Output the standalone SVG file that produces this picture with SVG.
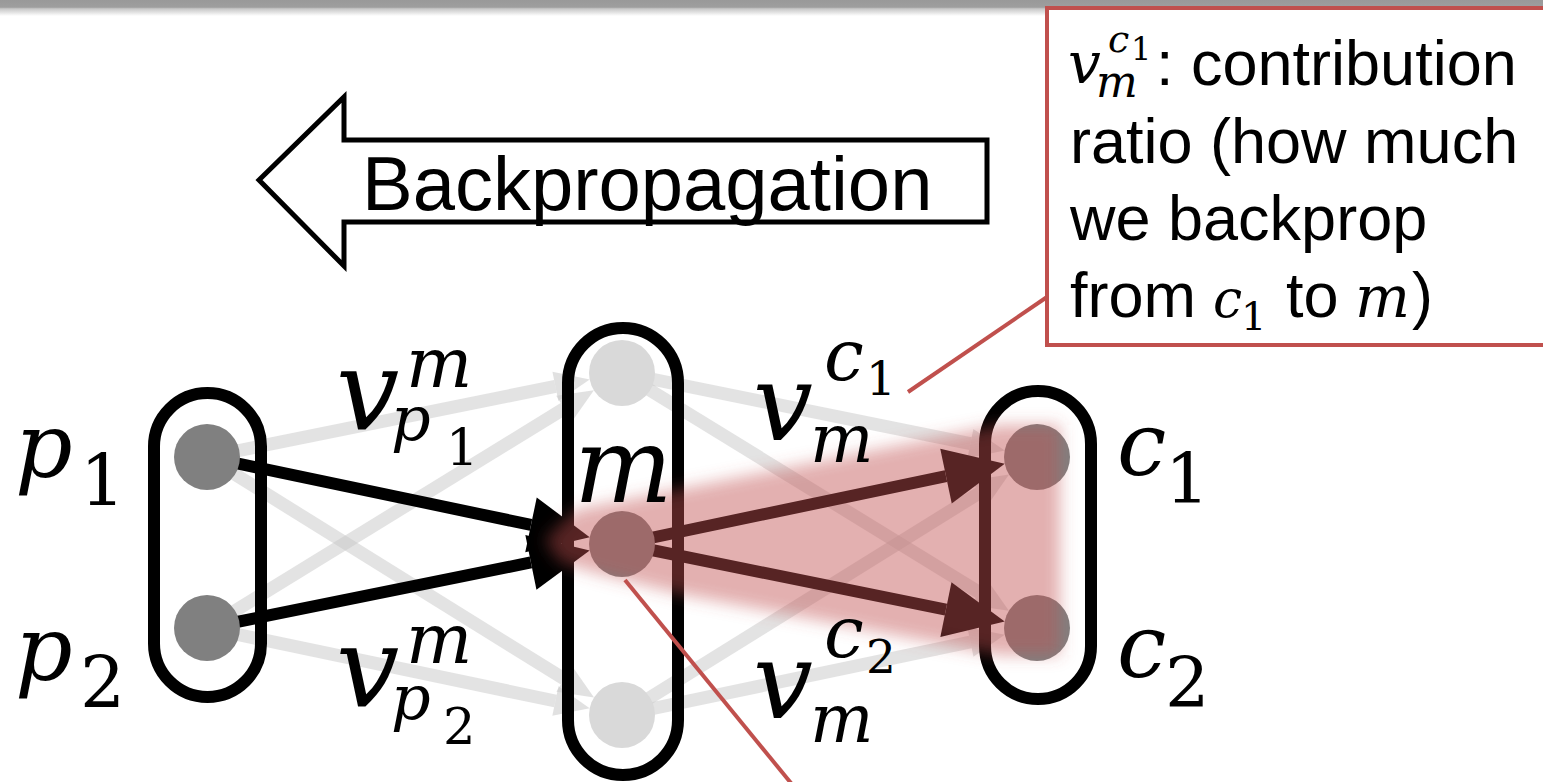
<svg xmlns="http://www.w3.org/2000/svg" width="1543" height="782" viewBox="0 0 1543 782">
<defs>
<linearGradient id="topband" x1="0" y1="0" x2="0" y2="1">
<stop offset="0" stop-color="#999"/>
<stop offset="0.45" stop-color="#9e9e9e"/>
<stop offset="0.55" stop-color="#c8c8c8"/>
<stop offset="0.8" stop-color="#e6e6e6"/>
<stop offset="1" stop-color="#fff"/>
</linearGradient>
<filter id="blur" x="-20%" y="-30%" width="140%" height="160%">
<feGaussianBlur stdDeviation="8"/>
</filter>
<marker id="ahGrey" markerUnits="userSpaceOnUse" markerWidth="40" markerHeight="34" refX="0" refY="15" orient="auto" overflow="visible">
<path d="M0,0 L35,15 L0,30 z" fill="#c8c8c8" fill-opacity="0.55"/>
</marker>
<marker id="ahBlack" markerUnits="userSpaceOnUse" markerWidth="62" markerHeight="58" refX="0" refY="28" orient="auto" overflow="visible">
<path d="M0,0 L60,28 L0,56 z" fill="#000"/>
</marker>
<style>
.grey{stroke:#c8c8c8;stroke-opacity:0.5;stroke-width:13;fill:none}
.black{stroke:#000;stroke-width:12;fill:none}
.pill{fill:none;stroke:#000;stroke-width:12}
.node{fill:#808080}
.lnode{fill:#d9d9d9}
.mi{font-family:"DejaVu Serif",serif;font-style:italic;fill:#000}
.mn{font-family:"DejaVu Serif",serif;font-style:normal;fill:#000}
.sans{font-family:"Liberation Sans",Arial,sans-serif;fill:#000}
.callout{stroke:#c0504d;stroke-width:4;fill:none}
</style>
</defs>
<rect x="0" y="0" width="1543" height="782" fill="#fff"/>
<rect x="0" y="0" width="1543" height="16" fill="url(#topband)"/>

<g id="backprop-arrow">
<polygon points="259,180 344,97 344,140 987,140 987,222 344,222 344,266" fill="#fff" stroke="#000" stroke-width="5" stroke-linejoin="miter"/>
<text class="sans" x="362" y="210" font-size="76">Backpropagation</text>
</g>

<g id="connectors">
<line class="grey" x1="207" y1="457" x2="555.4" y2="386.4" marker-end="url(#ahGrey)"/>
<line class="grey" x1="207" y1="457" x2="564.3" y2="679.1" marker-end="url(#ahGrey)"/>
<line class="grey" x1="207" y1="628" x2="564.1" y2="408.6" marker-end="url(#ahGrey)"/>
<line class="grey" x1="207" y1="628" x2="555.4" y2="701.0" marker-end="url(#ahGrey)"/>
<line class="grey" x1="622" y1="373" x2="970.4" y2="443.6" marker-end="url(#ahGrey)"/>
<line class="grey" x1="622" y1="373" x2="979.1" y2="592.4" marker-end="url(#ahGrey)"/>
<line class="grey" x1="622" y1="715" x2="979.3" y2="492.9" marker-end="url(#ahGrey)"/>
<line class="grey" x1="622" y1="715" x2="970.4" y2="642.0" marker-end="url(#ahGrey)"/>
<line class="black" x1="207" y1="457" x2="531.0" y2="524.9" marker-end="url(#ahBlack)"/>
<line class="black" x1="207" y1="628" x2="530.9" y2="562.4" marker-end="url(#ahBlack)"/>
<line class="black" x1="622" y1="544" x2="946.0" y2="476.1" marker-end="url(#ahBlack)"/>
<line class="black" x1="622" y1="544" x2="945.9" y2="609.6" marker-end="url(#ahBlack)"/>
</g>

<g id="group-p">
<rect class="pill" x="154" y="393" width="107" height="304" rx="53.5"/>
</g>
<g id="group-mid">
<rect class="pill" x="568" y="328" width="110" height="447" rx="55"/>
</g>
<g id="group-c">
<rect class="pill" x="985" y="391" width="106" height="308" rx="53"/>
</g>

<g id="node-p1"><circle class="node" cx="207" cy="457" r="33"/></g>
<g id="node-p2"><circle class="node" cx="207" cy="628" r="33"/></g>
<g id="node-top"><circle class="lnode" cx="622" cy="373" r="33"/></g>
<g id="node-m"><circle class="node" cx="622" cy="544" r="33"/></g>
<g id="node-bottom"><circle class="lnode" cx="622" cy="715" r="33"/></g>
<g id="node-c1"><circle class="node" cx="1037" cy="457" r="33"/></g>
<g id="node-c2"><circle class="node" cx="1037" cy="628" r="33"/></g>

<g id="glow">
<polygon points="545,540 575,510 1000,425 1060,425 1060,655 1000,655 680,594 600,574 560,562" fill="#c0504d" fill-opacity="0.45" filter="url(#blur)"/>
</g>

<g id="callouts">
<line class="callout" x1="908" y1="392" x2="1047" y2="297"/>
<line class="callout" x1="625" y1="580" x2="795" y2="788"/>
</g>

<g id="note-box">
<rect x="1047" y="8" width="520" height="337" fill="#fff" stroke="#c0504d" stroke-width="4"/>
<text class="mi" x="1068" y="83" font-size="58">v</text>
<text class="mi" x="1096" y="97" font-size="44">m</text>
<text class="mi" x="1108" y="52" font-size="38">c</text>
<text class="mn" x="1131" y="60" font-size="32">1</text>
<text class="sans" x="1156" y="85" font-size="63">: contribution</text>
<text class="sans" x="1070" y="163" font-size="63">ratio (how much</text>
<text class="sans" x="1070" y="240" font-size="63">we backprop</text>
<text class="sans" x="1070" y="317" font-size="63">from</text>
<text class="mi" x="1213" y="317" font-size="52">c</text>
<text class="mn" x="1241" y="330" font-size="40">1</text>
<text class="sans" x="1286" y="317" font-size="63">to</text>
<text class="mi" x="1355" y="317" font-size="58">m</text>
<text class="sans" x="1412" y="317" font-size="63">)</text>
</g>

<g id="labels">
<text class="mi" x="15" y="477" font-size="90">p</text>
<text class="mn" x="80" y="505" font-size="71">1</text>
<text class="mi" x="15" y="680" font-size="90">p</text>
<text class="mn" x="80" y="707" font-size="71">2</text>
<text class="mi" x="1117" y="475" font-size="88">c</text>
<text class="mn" x="1165" y="503" font-size="70">1</text>
<text class="mi" x="1117" y="677" font-size="88">c</text>
<text class="mn" x="1165" y="707" font-size="70">2</text>
<text class="mi" x="574" y="502" font-size="104">m</text>

<text class="mi" x="336" y="430" font-size="112">v</text>
<text class="mi" x="406" y="387" font-size="70">m</text>
<text class="mi" x="391" y="440" font-size="62">p</text>
<text class="mn" x="446" y="465" font-size="51">1</text>

<text class="mi" x="336" y="707" font-size="112">v</text>
<text class="mi" x="406" y="663" font-size="70">m</text>
<text class="mi" x="391" y="719" font-size="62">p</text>
<text class="mn" x="443" y="744" font-size="51">2</text>

<text class="mi" x="753" y="440" font-size="106">v</text>
<text class="mi" x="810" y="462" font-size="67">m</text>
<text class="mi" x="824" y="380" font-size="71">c</text>
<text class="mn" x="866" y="395" font-size="47">1</text>

<text class="mi" x="753" y="718" font-size="106">v</text>
<text class="mi" x="810" y="742" font-size="67">m</text>
<text class="mi" x="824" y="657" font-size="71">c</text>
<text class="mn" x="866" y="673" font-size="47">2</text>
</g>
</svg>
